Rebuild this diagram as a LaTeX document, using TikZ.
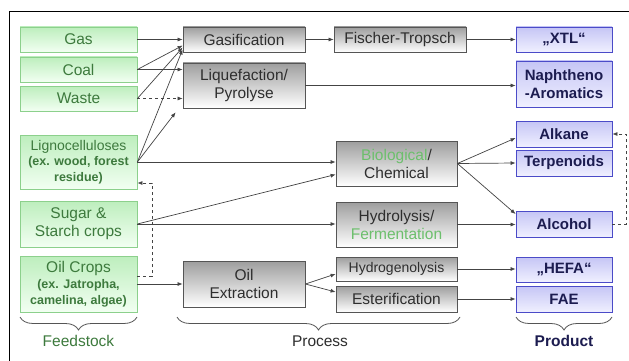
\documentclass[tikz,border=0pt]{standalone}
\usepackage{fontspec}
\setmainfont{Liberation Sans}
\usetikzlibrary{calc,decorations.pathreplacing,arrows.meta}
\definecolor{gborder}{HTML}{8CD08C}
\definecolor{gtop}{HTML}{BDEEBD}
\definecolor{gbot}{HTML}{F2FFF2}
\definecolor{gtext}{HTML}{3D7A3D}
\definecolor{biogreen}{HTML}{6CBF6C}
\definecolor{pborder}{HTML}{555555}
\definecolor{ptop}{HTML}{9E9E9E}
\definecolor{ptext}{HTML}{2E2E2E}
\definecolor{bborder}{HTML}{4B4BC8}
\definecolor{btop}{HTML}{C5C5F5}
\definecolor{bbot}{HTML}{F0F0FF}
\definecolor{btext}{HTML}{1C1C50}
\definecolor{linec}{HTML}{444444}
\begin{document}
\begin{tikzpicture}[x=1pt,y=-1pt,
  box/.style={draw, line width=0.8pt, inner sep=0pt, align=center,
    font=\fontsize{15.5}{18}\selectfont},
  feed/.style={box, draw=gborder, top color=gtop, bottom color=gbot, text=gtext, minimum width=117pt},
  proc/.style={box, draw=pborder, top color=ptop, bottom color=white, text=ptext, minimum width=121pt},
  prod/.style={box, draw=bborder, top color=btop, bottom color=bbot, text=btext,
    font=\fontsize{15}{18}\selectfont\bfseries, minimum width=96pt},
  arr/.style={draw=linec, line width=0.7pt, -{Latex[length=5pt,width=4pt]}},
  darr/.style={arr, dashed},
  brace/.style={draw=pborder, line width=0.8pt, decorate,
    decoration={brace, amplitude=13pt, mirror}},
  lbl/.style={font=\fontsize{15.5}{18}\selectfont, inner sep=0pt}
]
\useasboundingbox (0,0) rectangle (629,361);
\fill[white] (0,0) rectangle (629,361);
\draw[line width=0.9pt] (9,361) -- (9,11) -- (629,11);

% feedstock
\node[feed, minimum height=25pt] (gas) at (78.5,39.5) {Gas};
\node[feed, minimum height=25pt] (coal) at (78.5,69.5) {Coal};
\node[feed, minimum height=25pt] (waste) at (78.5,98.5) {Waste};
\node[feed, minimum height=54pt, font=\fontsize{14}{15.5}\selectfont] (ligno) at (78.5,162)
  {Lignocelluloses\\{\fontsize{12.5}{15.5}\selectfont\bfseries (ex. wood, forest}\\{\fontsize{12.5}{15.5}\selectfont\bfseries residue)}};
\node[feed, minimum height=46pt] (sugar) at (78.5,224) {Sugar \&\\Starch crops};
\node[feed, minimum height=56pt, font=\fontsize{15.5}{16}\selectfont] (oil) at (78.5,284)
  {Oil Crops\\{\fontsize{12.5}{14}\selectfont\bfseries (ex. Jatropha,}\\{\fontsize{12.5}{14}\selectfont\bfseries camelina, algae)}};

% process
\node[proc, minimum width=122pt, minimum height=25pt] (gasif) at (244,39.5) {Gasification};
\node[proc, minimum width=122pt, minimum height=45pt] (liq) at (244,85.5) {Liquefaction/\\Pyrolyse};
\node[proc, minimum width=132pt, minimum height=25pt] (ft) at (400,39.5) {Fischer-Tropsch};
\node[proc, minimum height=45pt] (bio) at (396.5,163.5) {\textcolor{biogreen}{Biological}/\\Chemical};
\node[proc, minimum height=45pt] (hydro) at (396.5,224.5) {Hydrolysis/\\\textcolor{biogreen}{Fermentation}};
\node[proc, minimum height=24pt, font=\fontsize{14}{16}\selectfont] (hgen) at (396.5,269) {Hydrogenolysis};
\node[proc, minimum height=26pt] (ester) at (396.5,299) {Esterification};
\node[proc, minimum width=122pt, minimum height=46pt] (oilex) at (244,284) {Oil\\Extraction};

% products
\node[prod, minimum height=25pt] (xtl) at (564,39.5) {„XTL“};
\node[prod, minimum height=46pt] (naph) at (564,84) {Naphtheno\\-Aromatics};
\node[prod, minimum height=26pt] (alk) at (564,134) {Alkane};
\node[prod, minimum height=26pt] (terp) at (564,163) {Terpenoids};
\node[prod, minimum height=26pt] (alc) at (564,224) {Alcohol};
\node[prod, minimum height=25pt] (hefa) at (564,269.5) {„HEFA“};
\node[prod, minimum height=26pt] (fae) at (564,299) {FAE};

% connectors feedstock -> process
\draw[arr] (gas) -- (gasif);
\draw[arr] (coal.east) -- ($(gasif.west)+(0,6)$);
\draw[arr] (coal.east) -- (liq.west |- coal.east);
\draw[arr] (waste.east) -- ($(gasif.west)+(0,8)$);
\draw[darr] (waste.east) -- (liq.west |- waste.east);
\draw[arr] (ligno.east) -- ($(gasif.west)+(0,10)$);
\coordinate (liqin) at ($(liq.south west)+(-7,4)$);
\draw[arr] (ligno.east) -- (liqin);
\draw[arr] (ligno.east) -- (bio.west |- ligno.east);
\draw[arr] (sugar.east) -- ($(bio.west)+(0,11)$);
\draw[arr] (sugar.east) -- (hydro.west |- sugar.east);
\draw[arr] (oil.east) -- (oilex.west);
\draw[darr] ($(oil.east)+(0,-8)$) -- ++(15,0) |- ($(ligno.east)+(0,21)$);

% process -> process / product
\draw[arr] (gasif) -- (ft);
\draw[arr] (ft) -- (xtl);
\draw[arr] (liq.east) -- (naph.west |- liq.east);
\draw[arr] (bio.east) -- ($(alk.west)+(0,4)$);
\draw[arr] (bio.east) -- (terp.west);
\draw[arr] (bio.east) -- ($(alc.west)+(0,-10)$);
\draw[arr] (hydro.east) -- (alc.west |- hydro.east);
\draw[arr] (oilex.east) -- ($(hgen.west)+(0,5)$);
\draw[arr] (oilex.east) -- ($(ester.west)+(0,-7)$);
\draw[arr] (hgen) -- (hefa.west |- hgen.east);
\draw[arr] (ester) -- (fae);
\draw[darr] (alc.east) -- ++(14,0) |- (alk.east);

% braces and labels
\draw[brace] (20,317) -- (137,317);
\draw[brace] (177,317) -- (460,317);
\draw[brace] (516,317) -- (612,317);
\node[lbl, text=gtext] (lfeed) at (78.5,341) {Feedstock};
\node[lbl, text=ptext] (lproc) at (320,341) {Process};
\node[lbl, text=btext, font=\fontsize{15.5}{18}\selectfont\bfseries] (lprod) at (564,341) {Product};
\end{tikzpicture}
\end{document}
